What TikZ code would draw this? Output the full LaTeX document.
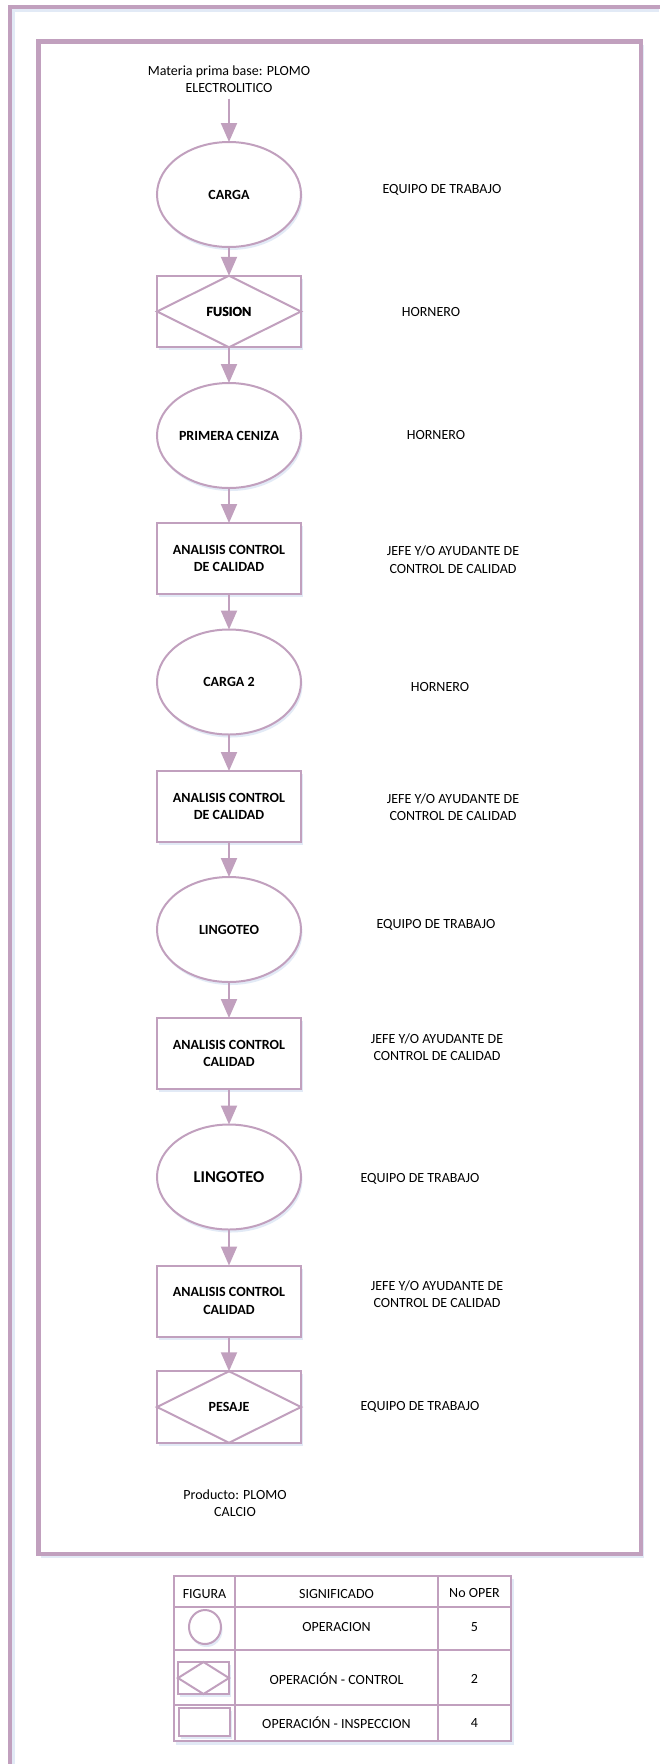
\documentclass[tikz,border=0pt]{standalone}
\usepackage{fontspec}
\setmainfont{Carlito}
\usetikzlibrary{arrows.meta,shapes.geometric,shadows}
\definecolor{mauve}{RGB}{193,160,190}
\definecolor{shadowc}{RGB}{226,234,246}
\begin{document}
\begin{tikzpicture}[x=1pt,y=-1pt,
  every node/.style={font=\fontsize{14}{17.5}\selectfont, text=black, inner sep=0pt, outer sep=0pt},
  shd/.style={drop shadow={shadow xshift=1.5pt,shadow yshift=-3pt,fill=shadowc,opacity=1}},
  boldtxt/.style={font=\bfseries\fontsize{14}{17.5}\selectfont},
  oper/.style={ellipse, draw=mauve, line width=2pt, fill=white, minimum width=144pt, minimum height=105pt, boldtxt, shd},
  insp/.style={rectangle, draw=mauve, line width=2pt, fill=white, minimum width=144pt, minimum height=71pt, align=center, boldtxt, shd},
  ctrl/.style={insp, minimum height=71.5pt},
  diam/.style={draw=mauve, line width=2pt},
  lbl/.style={align=center},
  flow/.style={draw=mauve, line width=2pt, -{Triangle[width=16pt,length=19pt]}, mauve},
  grid/.style={draw=mauve, line width=2pt}
]
\useasboundingbox (0,0) rectangle (659,1764);
% outer frame (cut by the page)
\draw[shadowc, line width=3pt] (13.5,1764) -- (13.5,10.5) -- (659,10.5);
\draw[mauve, line width=3.5pt] (10,1770) -- (10,7) -- (665,7);
% inner frame
\fill[shadowc] (41,45) rectangle (643.5,1558);
\draw[mauve, line width=4.5pt, fill=white] (38.5,41.7) rectangle (641,1554);

% flow
\node[lbl] (mat) at (229,79) {Materia prima base: PLOMO\\ELECTROLITICO};
\node[oper] (carga) at (229,194.5) {CARGA};
\node[ctrl] (fusion) at (229,311.5) {FUSION};
\node[oper] (pc) at (229,435.5) {PRIMERA CENIZA};
\node[insp] (an1) at (229,558.5) {ANALISIS CONTROL\\DE CALIDAD};
\node[oper] (c2) at (229,682) {CARGA 2};
\node[insp] (an2) at (229,806.5) {ANALISIS CONTROL\\DE CALIDAD};
\node[oper] (l1) at (229,929.5) {LINGOTEO};
\node[insp] (an3) at (229,1053.5) {ANALISIS CONTROL\\CALIDAD};
\node[oper, font=\bfseries\fontsize{16.5}{20}\selectfont] (l2) at (229,1177) {LINGOTEO};
\node[insp] (an4) at (229,1301) {ANALISIS CONTROL\\CALIDAD};
\node[ctrl] (pesaje) at (229,1407) {};
\draw[diam] (fusion.north) -- (fusion.east) -- (fusion.south) -- (fusion.west) -- cycle;
\draw[diam] (pesaje.north) -- (pesaje.east) -- (pesaje.south) -- (pesaje.west) -- cycle;
\node[boldtxt] (fusiontxt) at (fusion.center) {FUSION};
\node[boldtxt] (pesajetxt) at (pesaje.center) {PESAJE};
\node[lbl] (prod) at (235,1503) {Producto: PLOMO\\CALCIO};

\draw[flow, shorten <=6pt] (mat.south) -- (carga.north);
\draw[flow] (carga.south) -- (fusion.north);
\draw[flow] (fusion.south) -- (pc.north);
\draw[flow] (pc.south) -- (an1.north);
\draw[flow] (an1.south) -- (c2.north);
\draw[flow] (c2.south) -- (an2.north);
\draw[flow] (an2.south) -- (l1.north);
\draw[flow] (l1.south) -- (an3.north);
\draw[flow] (an3.south) -- (l2.north);
\draw[flow] (l2.south) -- (an4.north);
\draw[flow] (an4.south) -- (pesaje.north);

% responsible labels
\node[lbl] (r1) at (442,190) {EQUIPO DE TRABAJO};
\node[lbl] (r2) at (431,312) {HORNERO};
\node[lbl] (r3) at (436,435) {HORNERO};
\node[lbl] (r4) at (453,559.5) {JEFE Y/O AYUDANTE DE\\CONTROL DE CALIDAD};
\node[lbl] (r5) at (440,687) {HORNERO};
\node[lbl] (r6) at (453,807) {JEFE Y/O AYUDANTE DE\\CONTROL DE CALIDAD};
\node[lbl] (r7) at (436,925) {EQUIPO DE TRABAJO};
\node[lbl] (r8) at (437,1047) {JEFE Y/O AYUDANTE DE\\CONTROL DE CALIDAD};
\node[lbl] (r9) at (420,1179) {EQUIPO DE TRABAJO};
\node[lbl] (r10) at (437,1294) {JEFE Y/O AYUDANTE DE\\CONTROL DE CALIDAD};
\node[lbl] (r11) at (420,1407) {EQUIPO DE TRABAJO};

% legend table
\fill[shadowc] (176,1579) rectangle (513.5,1745);
\draw[grid, fill=white] (174,1576) rectangle (511,1741);
\draw[grid] (174,1607) -- (511,1607);
\draw[grid] (174,1650) -- (511,1650);
\draw[grid] (174,1705) -- (511,1705);
\draw[grid] (235,1576) -- (235,1741);
\draw[grid] (438,1576) -- (438,1741);
\node (hfig) at (204.5,1594) {FIGURA};
\node (hsig) at (336.5,1594) {SIGNIFICADO};
\node (hno) at (474.5,1593) {No OPER};
\node[ellipse, draw=mauve, line width=2pt, fill=white, minimum width=32pt, minimum height=34pt, shd] (lgc) at (205,1627) {};
\node[rectangle, draw=mauve, line width=2.5pt, fill=white, minimum width=51pt, minimum height=32pt, shd] (lgd) at (203.5,1678) {};
\draw[diam] (lgd.north) -- (lgd.east) -- (lgd.south) -- (lgd.west) -- cycle;
\node[rectangle, draw=mauve, line width=2.5pt, fill=white, minimum width=51pt, minimum height=28pt, shd] (lgr) at (204.5,1722) {};
\node (s1) at (336.5,1627) {OPERACION};
\node (n1) at (474.5,1627) {5};
\node (s2) at (336.5,1679) {OPERACIÓN - CONTROL};
\node (n2) at (474.5,1679) {2};
\node (s3) at (336.5,1723) {OPERACIÓN - INSPECCION};
\node (n3) at (474.5,1723) {4};
\end{tikzpicture}
\end{document}
